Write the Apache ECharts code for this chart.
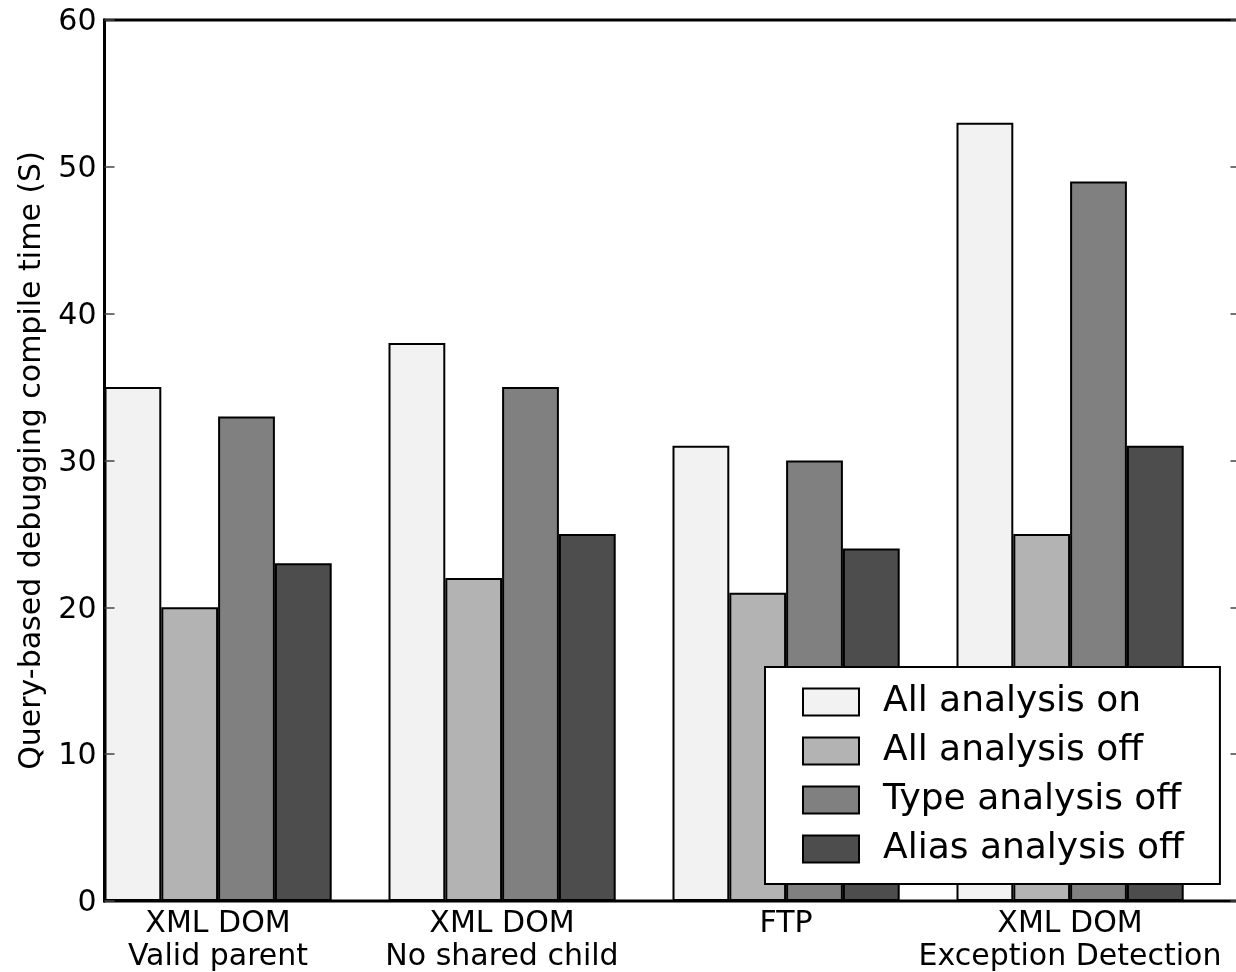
<!DOCTYPE html>
<html>
<head>
<meta charset="utf-8">
<script src="https://cdn.jsdelivr.net/npm/echarts@6/dist/echarts.min.js"></script>
<style>
  html, body { margin: 0; padding: 0; background: #ffffff; }
  #chart { width: 1236px; height: 972px; }
</style>
</head>
<body>
<div id="chart"></div>
<script>
// ---- data ----
const categories = ['XML DOM\nValid parent', 'XML DOM\nNo shared child', 'FTP', 'XML DOM\nException Detection'];
const seriesNames = ['All analysis on', 'All analysis off', 'Type analysis off', 'Alias analysis off'];
const allAnalysisOn = [35, 38, 31, 53];
const allAnalysisOff = [20, 22, 21, 25];
const typeAnalysisOff = [33, 35, 30, 49];
const aliasAnalysisOff = [23, 25, 24, 31];
const yTicks = [0, 10, 20, 30, 40, 50, 60];
const yTitle = 'Query-based debugging compile time (S)';

const colors = ['#f2f2f2', '#b3b3b3', '#808080', '#4d4d4d'];
const values = [allAnalysisOn, allAnalysisOff, typeAnalysisOff, aliasAnalysisOff];
const FONT = 'DejaVu Sans';

const series = seriesNames.map((name, i) => ({
  name: name,
  type: 'bar',
  data: values[i],
  barGap: '0%',
  barCategoryGap: '0%',
  itemStyle: { color: colors[i], borderColor: '#000', borderWidth: 2 },
  emphasis: { disabled: true },
  z: 2
}));
// empty spacer slot so each group sits at the left of its category slot
series.push({
  name: 'spacer',
  type: 'bar',
  data: categories.map(() => null),
  barGap: '0%',
  barCategoryGap: '0%',
  itemStyle: { color: 'rgba(0,0,0,0)', borderWidth: 0 },
  silent: true
});

const chart = echarts.init(document.getElementById('chart'), null, { renderer: 'canvas' });
chart.setOption({
  animation: false,
  backgroundColor: '#ffffff',
  textStyle: { fontFamily: FONT },
  grid: {
    left: 104.5, top: 20, right: -4.5, bottom: 71,
    outerBoundsMode: 'none',
    containLabel: false,
    show: true, borderColor: '#000', borderWidth: 3, backgroundColor: 'transparent', z: 5
  },
  legend: {
    data: seriesNames,
    orient: 'vertical',
    left: 765, top: 667,
    itemWidth: 56, itemHeight: 27,
    itemGap: 9,
    padding: [15, 36, 15, 37],
    backgroundColor: '#fff',
    borderColor: '#000', borderWidth: 2,
    borderRadius: 0,
    icon: 'rect',
    textStyle: { fontFamily: FONT, fontSize: 36, color: '#000', lineHeight: 40, padding: [0, 0, 0, 19] },
    selectedMode: false,
    z: 20
  },
  xAxis: {
    type: 'category',
    data: categories,
    axisLine: { show: false },
    axisTick: { show: false },
    axisLabel: {
      fontFamily: FONT, fontSize: 30, color: '#000', lineHeight: 33, margin: 7,
      padding: [0, 57, 0, 0], interval: 0
    }
  },
  yAxis: [
    {
      type: 'value', min: 0, max: 60, interval: 10, position: 'left',
      axisLine: { show: true, lineStyle: { color: '#000', width: 3 } },
      axisTick: { show: true, inside: true, length: 10, lineStyle: { color: '#444', width: 1.5 } },
      splitLine: { show: false },
      axisLabel: { fontFamily: FONT, fontSize: 30, color: '#000', margin: 8,
        formatter: v => (yTicks.indexOf(v) >= 0 ? '{n|' + v + '}' : ''),
        rich: { n: { fontFamily: FONT, fontSize: 30, color: '#000', padding: [5, 0, 0, 0] } } },
      name: yTitle,
      nameLocation: 'middle',
      nameGap: 57,
      nameRotate: 90,
      nameTextStyle: { fontFamily: FONT, fontSize: 30, color: '#000' },
      z: 10
    },
    {
      type: 'value', min: 0, max: 60, interval: 10, position: 'right',
      axisLine: { show: false },
      axisTick: { show: true, inside: true, length: 10, lineStyle: { color: '#444', width: 1.5 } },
      splitLine: { show: false },
      axisLabel: { show: false },
      z: 10
    }
  ],
  series: series
});
</script>
</body>
</html>
